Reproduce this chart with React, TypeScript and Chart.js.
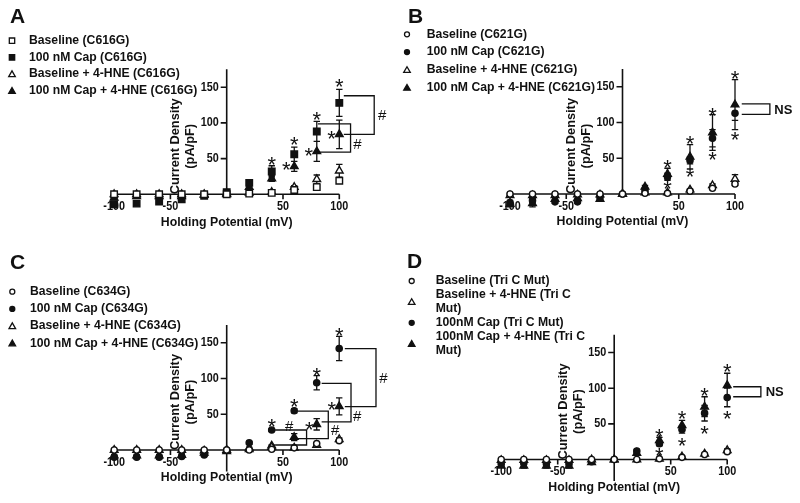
import React, { useEffect, useRef } from 'react';
import { Chart, registerables } from 'chart.js';

Chart.register(...registerables);

const FONT = '"Liberation Sans", Arial, Helvetica, sans-serif';
const INK = '#111111';

// ---------- shared axis data ----------
const holdingPotentials = [-100, -80, -60, -40, -20, 0, 20, 40, 60, 80, 100];
const xTickValues = [-100, -50, 50, 100];
const xTickLabels = ['-100', '-50', '50', '100'];
const yTickValues = [50, 100, 150];
const yTickLabels = ['50', '100', '150'];
const xAxisTitle = 'Holding Potential (mV)';
const yAxisTitle = ['Current Density', '(pA/pF)'];
const xAxisRange = [-100, 100];
const yAxisTop = 175;

// ---------- Panel A (C616G) ----------
const aLegend = [['Baseline (C616G)'], ['100 nM Cap (C616G)'], ['Baseline + 4-HNE (C616G)'], ['100 nM Cap + 4-HNE (C616G)']];
const aBaseline = [0, 0, 0, 0, 0, 0, 1, 2, 6, 10, 19];
const aBaselineErr = [0, 0, 0, 0, 0, 0, 0, 1, 1, 2, 3];
const aCap = [-14, -13, -10, -7, -2, 3, 16, 32, 56, 88, 128];
const aCapErr = [2, 2, 2, 2, 1, 1, 3, 8, 10, 14, 19];
const aHne = [0, 0, 0, 0, 0, 0, 2, 3, 10, 21, 33];
const aHneErr = [0, 0, 0, 0, 0, 0, 1, 1, 2, 6, 9];
const aCapHne = [-5, -3, -3, -3, -1, 1, 10, 22, 39, 60, 84];
const aCapHneErr = [1, 1, 1, 1, 1, 1, 2, 4, 7, 14, 20];
const aStars = [[40, 48], [60, 76], [53, 41], [80, 111], [73, 61], [100, 158], [93, 85]];
const aBrackets = [
  { from: 104, to: 131, top: 138, bottom: 84, mark: '#', markX: 138, markY: 111 },
  { from: 81, to: 110, top: 98.5, bottom: 59, mark: '#', markX: 116, markY: 71 },
];

// ---------- Panel B (C621G) ----------
const bLegend = [['Baseline (C621G)'], ['100 nM Cap (C621G)'], ['Baseline + 4-HNE (C621G)'], ['100 nM Cap + 4-HNE (C621G)']];
const bBaseline = [0, 0, 0, 0, 0, 0, 1, 1, 4, 8, 14];
const bBaselineErr = [1, 1, 1, 1, 1, 0, 0, 0, 1, 1, 2];
const bCap = [-12, -9, -11, -11, -5, 0, 5, 24, 47, 78, 113];
const bCapErr = [3, 3, 2, 2, 2, 0, 2, 5, 5, 12, 10];
const bHne = [-2, -2, -2, -1, -1, 0, 2, 2, 6, 12, 21];
const bHneErr = [1, 1, 1, 1, 1, 0, 1, 1, 1, 2, 6];
const bCapHne = [-14, -13, -7, -6, -7, 0, 10, 28, 52, 86, 125];
const bCapHneErr = [4, 5, 3, 3, 3, 1, 2, 8, 17, 25, 35];
const bStars = [[40, 44], [40, 14], [60, 78], [60, 31], [80, 117], [80, 55], [100, 168], [100, 83]];
const bBrackets = [{ from: 106, to: 131, top: 126, bottom: 111.5, mark: 'NS', markX: 143, markY: 117.5 }];

// ---------- Panel C (C634G) ----------
const cLegend = [['Baseline (C634G)'], ['100 nM Cap (C634G)'], ['Baseline + 4-HNE (C634G)'], ['100 nM Cap + 4-HNE (C634G)']];
const cBaseline = [0, 0, 0, 0, 0, 0, 0, 1, 3, 9, 13];
const cBaselineErr = [0, 0, 0, 0, 0, 0, 0, 0, 1, 1, 2];
const cCap = [-10, -10, -10, -9, -7, 0, 10, 28, 55, 94, 142];
const cCapErr = [2, 2, 2, 2, 2, 1, 2, 2, 3, 10, 17];
const cHne = [0, 0, 0, 0, -1, 0, 1, 4, 3, 7, 15];
const cHneErr = [0, 0, 0, 0, 0, 0, 0, 1, 1, 1, 2];
const cCapHne = [-8, -8, -8, -7, -4, -2, 3, 6, 18, 36, 61];
const cCapHneErr = [2, 2, 2, 2, 1, 1, 1, 1, 5, 8, 12];
const cStars = [[40, 40], [60, 67], [80, 111], [100, 167], [73.5, 35], [93.3, 64]];
const cBrackets = [
  { from: 105, to: 132.7, top: 141.7, bottom: 60.6, mark: '#', markX: 139.3, markY: 100.3 },
  { from: 84.4, to: 110.5, top: 93.3, bottom: 39.2, mark: '#', markX: 116, markY: 48 },
  { from: 63, to: 90.3, top: 54.5, bottom: 15.8, mark: '#', markX: 96.5, markY: 28 },
  { from: 43, to: 71, top: 28, bottom: 7, mark: '#', markX: 55.5, markY: 34 },
];

// ---------- Panel D (Tri C Mut) ----------
const dLegend = [['Baseline (Tri C Mut)'], ['Baseline + 4-HNE (Tri C', 'Mut)'], ['100nM Cap (Tri C Mut)'], ['100nM Cap + 4-HNE (Tri C', 'Mut)']];
const dBaseline = [0, 0, 0, 0, 0, 0, 0, 1, 3, 7, 11];
const dBaselineErr = [0, 0, 0, 0, 0, 0, 0, 0, 1, 1, 2];
const dHne = [-1, -1, -1, -1, 0, 0, 0, 1, 4, 8, 13];
const dHneErr = [0, 0, 0, 0, 0, 0, 0, 0, 1, 1, 2];
const dCap = [-6, -5, -6, -6, -3, 0, 12, 22, 42, 65, 87];
const dCapErr = [2, 2, 2, 2, 1, 0, 2, 3, 5, 11, 13];
const dCapHne = [-9, -9, -9, -9, -4, 0, 9, 27, 48, 74, 104];
const dCapHneErr = [2, 3, 3, 3, 1, 0, 1, 4, 7, 14, 17];
const dStars = [[40, 39], [40, 13], [60, 65], [60, 26], [80, 97], [80, 44], [100, 130], [100, 65]];
const dBrackets = [{ from: 105.3, to: 129.8, top: 102, bottom: 88, mark: 'NS', markX: 142, markY: 94.5 }];

type Shape = 'rect' | 'circle' | 'triangle';
type SeriesDef = { lines: string[]; shape: Shape; filled: boolean; values: number[]; errors: number[] };
type BracketDef = { from: number; to: number; top: number; bottom: number; mark: string; markX: number; markY: number };
type PanelDef = {
  letter: string;
  series: SeriesDef[];
  stars: number[][];
  brackets: BracketDef[];
  yAxisBottom: number;
  box: { left: number; top: number; width: number; height: number };
  origin: { x: number; y: number };
  unit: { x: number; y: number };
  legend: { markerX: number; textX: number; firstY: number; step: number };
  letterPos: { x: number; y: number };
};

const panels: PanelDef[] = [
  {
    letter: 'A',
    series: [
      { lines: aLegend[0], shape: 'rect', filled: false, values: aBaseline, errors: aBaselineErr },
      { lines: aLegend[1], shape: 'rect', filled: true, values: aCap, errors: aCapErr },
      { lines: aLegend[2], shape: 'triangle', filled: false, values: aHne, errors: aHneErr },
      { lines: aLegend[3], shape: 'triangle', filled: true, values: aCapHne, errors: aCapHneErr },
    ],
    stars: aStars,
    brackets: aBrackets,
    yAxisBottom: 0,
    box: { left: 0, top: 0, width: 400, height: 250 },
    origin: { x: 226.7, y: 194.3 },
    unit: { x: 1.126, y: 0.714 },
    legend: { markerX: 12, textX: 29, firstY: 40.7, step: 16.7 },
    letterPos: { x: 10, y: 23.3 },
  },
  {
    letter: 'B',
    series: [
      { lines: bLegend[0], shape: 'circle', filled: false, values: bBaseline, errors: bBaselineErr },
      { lines: bLegend[1], shape: 'circle', filled: true, values: bCap, errors: bCapErr },
      { lines: bLegend[2], shape: 'triangle', filled: false, values: bHne, errors: bHneErr },
      { lines: bLegend[3], shape: 'triangle', filled: true, values: bCapHne, errors: bCapHneErr },
    ],
    stars: bStars,
    brackets: bBrackets,
    yAxisBottom: 0,
    box: { left: 400, top: 0, width: 400, height: 250 },
    origin: { x: 222.5, y: 194 },
    unit: { x: 1.125, y: 0.715 },
    legend: { markerX: 7, textX: 26.7, firstY: 34.3, step: 17.8 },
    letterPos: { x: 8, y: 22.7 },
  },
  {
    letter: 'C',
    series: [
      { lines: cLegend[0], shape: 'circle', filled: false, values: cBaseline, errors: cBaselineErr },
      { lines: cLegend[1], shape: 'circle', filled: true, values: cCap, errors: cCapErr },
      { lines: cLegend[2], shape: 'triangle', filled: false, values: cHne, errors: cHneErr },
      { lines: cLegend[3], shape: 'triangle', filled: true, values: cCapHne, errors: cCapHneErr },
    ],
    stars: cStars,
    brackets: cBrackets,
    yAxisBottom: -30,
    box: { left: 0, top: 250, width: 400, height: 253 },
    origin: { x: 226.7, y: 200 },
    unit: { x: 1.125, y: 0.715 },
    legend: { markerX: 12.3, textX: 30, firstY: 41.7, step: 17.2 },
    letterPos: { x: 10, y: 19.3 },
  },
  {
    letter: 'D',
    series: [
      { lines: dLegend[0], shape: 'circle', filled: false, values: dBaseline, errors: dBaselineErr },
      { lines: dLegend[1], shape: 'triangle', filled: false, values: dHne, errors: dHneErr },
      { lines: dLegend[2], shape: 'circle', filled: true, values: dCap, errors: dCapErr },
      { lines: dLegend[3], shape: 'triangle', filled: true, values: dCapHne, errors: dCapHneErr },
    ],
    stars: dStars,
    brackets: dBrackets,
    yAxisBottom: -30,
    box: { left: 400, top: 250, width: 400, height: 253 },
    origin: { x: 214.2, y: 209.5 },
    unit: { x: 1.13, y: 0.713 },
    legend: { markerX: 11.7, textX: 35.7, firstY: 31, step: 13.94 },
    letterPos: { x: 7, y: 18.3 },
  },
];

const X_MIN = -110, X_MAX = 110, Y_MIN = -35, Y_MAX = 175;

function drawText(
  ctx: CanvasRenderingContext2D, s: string, x: number, y: number, size: number,
  align: CanvasTextAlign, o: { weight?: string; baseline?: CanvasTextBaseline; sx?: number; rotate?: number } = {}
) {
  ctx.save();
  ctx.translate(x, y);
  if (o.rotate) ctx.rotate(o.rotate);
  ctx.scale(o.sx ?? 1, 1);
  ctx.font = `${o.weight ?? 'bold'} ${size}px ${FONT}`;
  ctx.textAlign = align;
  ctx.textBaseline = o.baseline ?? 'middle';
  ctx.fillStyle = INK;
  ctx.fillText(s, 0, 0);
  ctx.restore();
}

function drawMarker(ctx: CanvasRenderingContext2D, shape: Shape, filled: boolean, x: number, y: number, r: number) {
  ctx.save();
  ctx.beginPath();
  if (shape === 'rect') {
    const s = r * Math.SQRT2;
    ctx.rect(x - s / 2, y - s / 2, s, s);
  } else if (shape === 'circle') {
    ctx.arc(x, y, r, 0, Math.PI * 2);
  } else {
    ctx.moveTo(x, y - r);
    ctx.lineTo(x + 0.866 * r, y + r / 2);
    ctx.lineTo(x - 0.866 * r, y + r / 2);
    ctx.closePath();
  }
  ctx.fillStyle = filled ? INK : '#ffffff';
  ctx.fill();
  ctx.lineWidth = 1.3;
  ctx.strokeStyle = INK;
  ctx.stroke();
  ctx.restore();
}

function makeDecor(def: PanelDef) {
  return {
    id: 'decor' + def.letter,
    beforeDatasetsDraw(chart: any) {
      const ctx: CanvasRenderingContext2D = chart.ctx;
      const X = (v: number) => chart.scales.x.getPixelForValue(v);
      const Y = (v: number) => chart.scales.y.getPixelForValue(v);
      ctx.save();
      ctx.strokeStyle = INK;
      ctx.lineWidth = 1.6;
      ctx.beginPath();
      ctx.moveTo(X(xAxisRange[0]), Y(0));
      ctx.lineTo(X(xAxisRange[1]), Y(0));
      ctx.moveTo(X(0), Y(def.yAxisBottom));
      ctx.lineTo(X(0), Y(yAxisTop));
      xTickValues.forEach((v) => { ctx.moveTo(X(v), Y(0)); ctx.lineTo(X(v), Y(0) + 5); });
      yTickValues.forEach((v) => { ctx.moveTo(X(0), Y(v)); ctx.lineTo(X(0) - 6, Y(v)); });
      ctx.stroke();
      ctx.restore();

      xTickValues.forEach((v, i) => drawText(ctx, xTickLabels[i], X(v), Y(0) + 12.5, 12, 'center', { sx: 0.9 }));
      yTickValues.forEach((v, i) => drawText(ctx, yTickLabels[i], X(0) - 8, Y(v), 12, 'right', { sx: 0.9 }));
      drawText(ctx, xAxisTitle, X(0), Y(0) + 28, 12.3, 'center');
      drawText(ctx, yAxisTitle[0], X(0) - 51, Y(0) - 48, 12.8, 'center', { rotate: -Math.PI / 2 });
      drawText(ctx, yAxisTitle[1], X(0) - 36, Y(0) - 48, 12.8, 'center', { rotate: -Math.PI / 2 });

      // panel letter
      drawText(ctx, def.letter, def.letterPos.x, def.letterPos.y, 21, 'left', { baseline: 'alphabetic' });

      // legend
      let row = 0;
      def.series.forEach((s) => {
        const ys: number[] = [];
        s.lines.forEach((line) => {
          const y = def.legend.firstY + row * def.legend.step;
          ys.push(y);
          drawText(ctx, line, def.legend.textX, y, 12.2, 'left');
          row++;
        });
        const my = ys.reduce((a, b) => a + b, 0) / ys.length;
        const r = s.shape === 'circle' ? 2.5 : s.shape === 'rect' ? 3.8 : 3.8;
        drawMarker(ctx, s.shape, s.filled, def.legend.markerX, my + (s.shape === 'triangle' ? 0.6 : 0), r);
      });

      // error bars
      ctx.save();
      ctx.strokeStyle = INK;
      ctx.lineWidth = 1.3;
      ctx.beginPath();
      def.series.forEach((s) => {
        holdingPotentials.forEach((xv, i) => {
          const e = s.errors[i];
          if (!e) return;
          const px = X(xv);
          const t = Y(s.values[i] + e);
          const b = Y(s.values[i] - e);
          ctx.moveTo(px, t); ctx.lineTo(px, b);
          ctx.moveTo(px - 3.2, t); ctx.lineTo(px + 3.2, t);
          ctx.moveTo(px - 3.2, b); ctx.lineTo(px + 3.2, b);
        });
      });
      ctx.stroke();
      ctx.restore();
    },
    afterDatasetsDraw(chart: any) {
      const ctx: CanvasRenderingContext2D = chart.ctx;
      const X = (v: number) => chart.scales.x.getPixelForValue(v);
      const Y = (v: number) => chart.scales.y.getPixelForValue(v);
      // asterisks
      def.stars.forEach(([sx, sy]) => {
        drawText(ctx, '*', X(sx), Y(sy) + 12.4, 22, 'center', { weight: 'normal', baseline: 'alphabetic' });
      });
      // brackets
      ctx.save();
      ctx.strokeStyle = INK;
      ctx.lineWidth = 1.3;
      ctx.beginPath();
      def.brackets.forEach((b) => {
        ctx.moveTo(X(b.from), Y(b.top));
        ctx.lineTo(X(b.to), Y(b.top));
        ctx.lineTo(X(b.to), Y(b.bottom));
        ctx.lineTo(X(b.from), Y(b.bottom));
      });
      ctx.stroke();
      ctx.restore();
      def.brackets.forEach((b) => {
        if (b.mark === '#') {
          drawText(ctx, '#', X(b.markX), Y(b.markY) + 5, 15, 'center', { weight: 'normal', baseline: 'alphabetic' });
        } else {
          drawText(ctx, b.mark, X(b.markX), Y(b.markY), 13, 'center');
        }
      });
    },
  };
}

function Panel({ def }: { def: PanelDef }) {
  const ref = useRef<HTMLCanvasElement>(null);
  useEffect(() => {
    const canvas = ref.current!;
    const { box, origin, unit } = def;
    const padding = {
      left: origin.x + X_MIN * unit.x,
      right: box.width - (origin.x + X_MAX * unit.x),
      top: origin.y - Y_MAX * unit.y,
      bottom: box.height - (origin.y - Y_MIN * unit.y),
    };
    const radius = (s: Shape) => (s === 'circle' ? 3.1 : s === 'rect' ? 4.6 : 4.4);
    const chart = new Chart(canvas, {
      type: 'scatter',
      data: {
        datasets: def.series.map((s) => ({
          label: s.lines.join(' '),
          data: holdingPotentials.map((x, i) => ({ x, y: s.values[i] })),
          pointStyle: s.shape,
          pointRadius: radius(s.shape),
          pointHoverRadius: radius(s.shape),
          backgroundColor: s.filled ? INK : '#ffffff',
          borderColor: INK,
          borderWidth: 1.4,
          showLine: false,
          clip: false as any,
        })),
      },
      options: {
        animation: false,
        responsive: false,
        maintainAspectRatio: false,
        events: [],
        layout: { padding },
        plugins: { legend: { display: false }, tooltip: { enabled: false } },
        scales: {
          x: { type: 'linear', min: X_MIN, max: X_MAX, display: false },
          y: { type: 'linear', min: Y_MIN, max: Y_MAX, display: false },
        },
      },
      plugins: [makeDecor(def)],
    });
    return () => chart.destroy();
  }, [def]);
  return (
    <canvas
      ref={ref}
      width={def.box.width}
      height={def.box.height}
      style={{ position: 'absolute', left: def.box.left, top: def.box.top, width: def.box.width, height: def.box.height }}
    />
  );
}

export default function App() {
  return (
    <div style={{ position: 'absolute', left: 0, top: 0, width: 800, height: 503, background: '#ffffff', overflow: 'hidden' }}>
      {panels.map((p) => (
        <Panel key={p.letter} def={p} />
      ))}
    </div>
  );
}
